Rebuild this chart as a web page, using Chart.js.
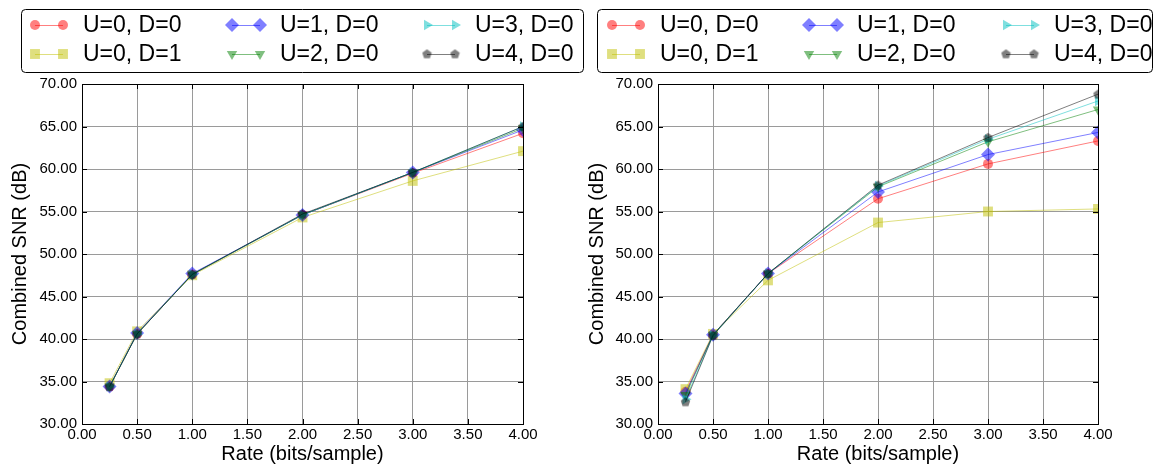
<!DOCTYPE html>
<html>
<head>
<meta charset="utf-8">
<script src="https://cdn.jsdelivr.net/npm/chart.js@4.4.0/dist/chart.umd.min.js"></script>
<style>
  html, body { margin: 0; padding: 0; background: #fff; }
  #wrap { position: relative; width: 1156px; height: 466px; }
  #left { position: absolute; left: 0; top: 0; }
  #right { position: absolute; left: 586px; top: 0; }
</style>
</head>
<body>
<div id="wrap">
  <canvas id="left" width="586" height="466"></canvas>
  <canvas id="right" width="570" height="466"></canvas>
</div>
<script>
// rates on the x axis (bits/sample)
const rates = [0.25, 0.5, 1, 2, 3, 4];
const xTicks = [0, 0.5, 1, 1.5, 2, 2.5, 3, 3.5, 4];
const yTicks = [30, 35, 40, 45, 50, 55, 60, 65, 70];
const seriesLabels = ['U=0, D=0', 'U=0, D=1', 'U=1, D=0', 'U=2, D=0', 'U=3, D=0', 'U=4, D=0'];

// left panel values (dB)
const leftU0D0 = [34.4, 40.6, 47.6, 54.6, 59.5, 64.2];
const leftU0D1 = [34.8, 40.9, 47.5, 54.3, 58.6, 62.1];
const leftU1D0 = [34.4, 40.7, 47.7, 54.6, 59.6, 64.6];
const leftU2D0 = [34.4, 40.6, 47.6, 54.6, 59.6, 64.8];
const leftU3D0 = [34.4, 40.6, 47.6, 54.6, 59.6, 65.0];
const leftU4D0 = [34.4, 40.6, 47.6, 54.7, 59.6, 65.0];

// right panel values (dB)
const rightU0D0 = [33.8, 40.5, 47.7, 56.5, 60.6, 63.3];
const rightU0D1 = [34.1, 40.6, 46.9, 53.7, 55.0, 55.3];
const rightU1D0 = [33.6, 40.5, 47.7, 57.3, 61.7, 64.3];
const rightU2D0 = [33.4, 40.5, 47.7, 57.9, 63.2, 67.0];
const rightU3D0 = [32.9, 40.4, 47.7, 58.0, 63.5, 68.0];
const rightU4D0 = [32.6, 40.4, 47.7, 58.1, 63.7, 68.8];

const FONT = "'Liberation Sans', Arial, sans-serif";

// pentagon marker, chart.js has none built in
const penta = document.createElement('canvas');
penta.width = 11; penta.height = 11;
(function () {
  const c = penta.getContext('2d');
  c.fillStyle = 'rgba(0,0,0,0.5)';
  c.beginPath();
  for (let i = 0; i < 5; i++) {
    const a = -Math.PI / 2 + i * 2 * Math.PI / 5;
    const px = 5.5 + 5 * Math.cos(a), py = 5.8 + 5 * Math.sin(a);
    if (i === 0) c.moveTo(px, py); else c.lineTo(px, py);
  }
  c.closePath();
  c.fill();
})();

// marker + colour per series (matplotlib r, y, b, g, c, k with alpha .5)
const seriesStyles = [
  { color: 'rgba(255,0,0,0.5)', pointStyle: 'circle', radius: 5, rotation: 0 },
  { color: 'rgba(191,191,0,0.5)', pointStyle: 'rect', radius: 7, rotation: 0 },
  { color: 'rgba(0,0,255,0.5)', pointStyle: 'rectRot', radius: 7, rotation: 0 },
  { color: 'rgba(0,128,0,0.5)', pointStyle: 'triangle', radius: 6, rotation: 180 },
  { color: 'rgba(0,191,191,0.5)', pointStyle: 'triangle', radius: 6, rotation: 90 },
  { color: 'rgba(0,0,0,0.5)', pointStyle: penta, radius: 5, rotation: 0 },
];

function buildDatasets(valueLists) {
  return valueLists.map((vals, i) => {
    const st = seriesStyles[i];
    return {
      label: seriesLabels[i],
      data: rates.map((r, k) => ({ x: r, y: vals[k] })),
      borderColor: st.color,
      borderWidth: 1,
      backgroundColor: st.color,
      pointBackgroundColor: st.color,
      pointBorderWidth: 0,
      pointStyle: st.pointStyle,
      pointRadius: st.radius,
      pointRotation: st.rotation,
      tension: 0,
      order: seriesLabels.length - i, // last series drawn on top
    };
  });
}

// frame, inward ticks and the boxed 3-column legend
const framePlugin = {
  id: 'frameLegend',
  afterDraw(chart, args, opts) {
    const ctx = chart.ctx;
    const a = chart.chartArea;
    const xs = chart.scales.x, ys = chart.scales.y;
    ctx.save();
    ctx.strokeStyle = '#000';
    ctx.lineWidth = 1;
    ctx.beginPath();
    xs.ticks.forEach(t => {
      const px = Math.round(xs.getPixelForValue(t.value)) + 0.5;
      ctx.moveTo(px, a.bottom); ctx.lineTo(px, a.bottom - 5);
      ctx.moveTo(px, a.top); ctx.lineTo(px, a.top + 5);
    });
    ys.ticks.forEach(t => {
      const py = Math.round(ys.getPixelForValue(t.value)) + 0.5;
      ctx.moveTo(a.left, py); ctx.lineTo(a.left + 5, py);
      ctx.moveTo(a.right, py); ctx.lineTo(a.right - 5, py);
    });
    ctx.stroke();
    ctx.strokeRect(Math.round(a.left) + 0.5, Math.round(a.top) + 0.5,
      Math.round(a.right - a.left), Math.round(a.bottom - a.top));

    // legend box
    const b = opts.box;
    ctx.fillStyle = '#fff';
    ctx.beginPath();
    ctx.roundRect(b.x + 0.5, b.y + 0.5, b.w, b.h, 4);
    ctx.fill();
    ctx.stroke();

    ctx.font = '23px ' + FONT;
    ctx.textBaseline = 'middle';
    ctx.textAlign = 'left';
    seriesLabels.forEach((lab, i) => {
      const col = Math.floor(i / 2), row = i % 2;
      const tx = opts.textX[col], ty = opts.rowY[row];
      const m1 = tx - 48, m2 = tx - 20;
      const st = seriesStyles[i];
      ctx.strokeStyle = st.color;
      ctx.beginPath();
      ctx.moveTo(m1, ty + 0.5); ctx.lineTo(m2, ty + 0.5);
      ctx.stroke();
      ctx.fillStyle = st.color;
      [m1, m2].forEach(mx => {
        Chart.helpers.drawPoint(ctx, {
          pointStyle: st.pointStyle, rotation: st.rotation,
          radius: st.radius, borderWidth: 0
        }, mx, ty);
      });
      ctx.fillStyle = '#000';
      ctx.fillText(lab, tx, ty + 1);
    });
    ctx.restore();
  }
};

function makeChart(id, valueLists, yWidth, padRight, titlePad, legendOpts) {
  return new Chart(document.getElementById(id), {
    type: 'line',
    data: { datasets: buildDatasets(valueLists) },
    options: {
      responsive: false,
      animation: false,
      layout: { padding: { top: 84, right: padRight, bottom: 0, left: 0 } },
      plugins: {
        legend: { display: false },
        tooltip: { enabled: false },
        frameLegend: legendOpts,
      },
      scales: {
        x: {
          type: 'linear', min: 0, max: 4,
          afterBuildTicks: s => { s.ticks = xTicks.map(v => ({ value: v })); },
          afterFit: s => { s.height = 42; },
          ticks: {
            callback: v => Number(v).toFixed(2),
            font: { family: FONT, size: 15 }, color: '#000',
            padding: 2, maxRotation: 0, autoSkip: false,
          },
          grid: { color: '#9a9a9a', lineWidth: 1, drawTicks: false },
          border: { display: false },
          title: {
            display: true, text: 'Rate (bits/sample)', color: '#000',
            font: { family: FONT, size: 20 }, padding: 0,
          },
        },
        y: {
          type: 'linear', min: 30, max: 70,
          afterBuildTicks: s => { s.ticks = yTicks.map(v => ({ value: v })); },
          afterFit: s => { s.width = yWidth; },
          ticks: {
            callback: v => Number(v).toFixed(2),
            font: { family: FONT, size: 15 }, color: '#000',
            padding: 5, autoSkip: false,
          },
          grid: { color: '#9a9a9a', lineWidth: 1, drawTicks: false },
          border: { display: false },
          title: {
            display: true, text: 'Combined SNR (dB)', color: '#000',
            font: { family: FONT, size: 20, lineHeight: 1 },
            padding: { top: titlePad, bottom: 0 },
          },
        },
      },
    },
    plugins: [framePlugin],
  });
}

makeChart('left',
  [leftU0D0, leftU0D1, leftU1D0, leftU2D0, leftU3D0, leftU4D0],
  82, 63, 10,
  { box: { x: 21, y: 9, w: 562, h: 63 }, textX: [83, 280, 475], rowY: [25, 54] });

makeChart('right',
  [rightU0D0, rightU0D1, rightU1D0, rightU2D0, rightU3D0, rightU4D0],
  72, 58, 1,
  { box: { x: 11, y: 9, w: 555, h: 63 }, textX: [74, 271, 468], rowY: [25, 54] });
</script>
</body>
</html>
